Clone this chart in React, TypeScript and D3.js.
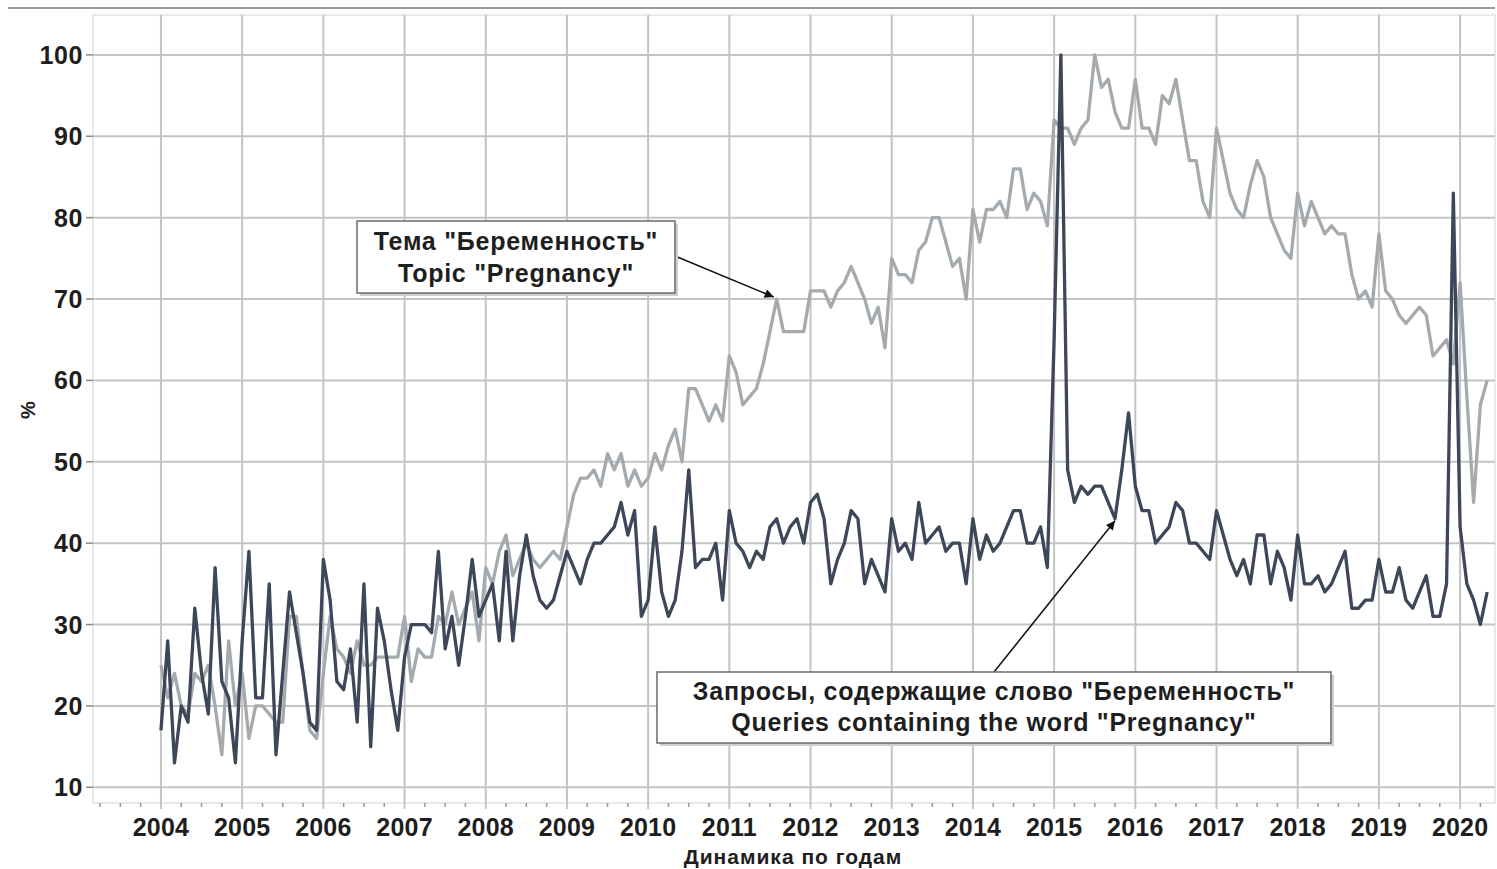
import React from "react";
import * as d3 from "d3";

// Monthly data, Jan 2004 .. May 2020
const startYear = 2004;
const queries: number[] = [
  17, 28, 13, 20, 18, 32, 24, 19, 37, 23, 21, 13,
  28, 39, 21, 21, 35, 14, 24, 34, 29, 24, 18, 17,
  38, 33, 23, 22, 27, 18, 35, 15, 32, 28, 22, 17,
  26, 30, 30, 30, 29, 39, 27, 31, 25, 31, 38, 31,
  33, 35, 28, 39, 28, 36, 41, 36, 33, 32, 33, 36,
  39, 37, 35, 38, 40, 40, 41, 42, 45, 41, 44, 31,
  33, 42, 34, 31, 33, 39, 49, 37, 38, 38, 40, 33,
  44, 40, 39, 37, 39, 38, 42, 43, 40, 42, 43, 40,
  45, 46, 43, 35, 38, 40, 44, 43, 35, 38, 36, 34,
  43, 39, 40, 38, 45, 40, 41, 42, 39, 40, 40, 35,
  43, 38, 41, 39, 40, 42, 44, 44, 40, 40, 42, 37,
  65, 100, 49, 45, 47, 46, 47, 47, 45, 43, 49, 56,
  47, 44, 44, 40, 41, 42, 45, 44, 40, 40, 39, 38,
  44, 41, 38, 36, 38, 35, 41, 41, 35, 39, 37, 33,
  41, 35, 35, 36, 34, 35, 37, 39, 32, 32, 33, 33,
  38, 34, 34, 37, 33, 32, 34, 36, 31, 31, 35, 83,
  42, 35, 33, 30, 34,
];
const topic: number[] = [
  25, 21, 24, 20, 19, 24, 23, 25, 20, 14, 28, 20,
  24, 16, 20, 20, 19, 18, 18, 31, 31, 24, 17, 16,
  24, 31, 27, 26, 24, 28, 25, 25, 26, 26, 26, 26,
  31, 23, 27, 26, 26, 31, 30, 34, 30, 32, 34, 28,
  37, 35, 39, 41, 36, 38, 40, 38, 37, 38, 39, 38,
  42, 46, 48, 48, 49, 47, 51, 49, 51, 47, 49, 47,
  48, 51, 49, 52, 54, 50, 59, 59, 57, 55, 57, 55,
  63, 61, 57, 58, 59, 62, 66, 70, 66, 66, 66, 66,
  71, 71, 71, 69, 71, 72, 74, 72, 70, 67, 69, 64,
  75, 73, 73, 72, 76, 77, 80, 80, 77, 74, 75, 70,
  81, 77, 81, 81, 82, 80, 86, 86, 81, 83, 82, 79,
  92, 91, 91, 89, 91, 92, 100, 96, 97, 93, 91, 91,
  97, 91, 91, 89, 95, 94, 97, 92, 87, 87, 82, 80,
  91, 87, 83, 81, 80, 84, 87, 85, 80, 78, 76, 75,
  83, 79, 82, 80, 78, 79, 78, 78, 73, 70, 71, 69,
  78, 71, 70, 68, 67, 68, 69, 68, 63, 64, 65, 62,
  72, 58, 45, 57, 60,
];
const yearTicks: number[] = d3.range(2004, 2021);
const valueTicks: number[] = d3.range(10, 101, 10);
const topicLabel: string[] = ['Тема "Беременность"', 'Topic "Pregnancy"'];
const queriesLabel: string[] = ['Запросы, содержащие слово "Беременность"', 'Queries containing the word "Pregnancy"'];
const xTitle = "Динамика по годам";
const yTitle = "%";
const topicArrowIndex = 91;
const queriesArrowIndex = 141;

const W = 1497;
const H = 869;
const FONT = "'Liberation Sans', Arial, Helvetica, sans-serif";

export default function App() {
  const left = 93, right = 1495, top = 15, bottom = 803;
  const x = d3.scaleLinear().domain([2003.163, 2020.43]).range([left, right]);
  const y = d3.scaleLinear().domain([8.07, 104.9]).range([bottom, top]);
  const t = (i: number) => startYear + i / 12;
  const line = d3
    .line<number>()
    .x((_, i) => x(t(i)))
    .y((d) => y(d));

  const minor = d3.range(2003.25, 2020.43, 0.25).filter((v) => Math.abs(v - Math.round(v)) > 0.01);

  const gridColor = "#c4c4c4";
  const dark = "#3e4759";
  const light = "#a5aaae";
  const textColor = "#1e1e1e";

  const ax1 = { x: x(t(topicArrowIndex)), y: y(topic[topicArrowIndex]) };
  const ax2 = { x: x(t(queriesArrowIndex)), y: y(queries[queriesArrowIndex]) };

  const annStyle = { fontSize: 25, fontWeight: "bold" as const, letterSpacing: 0.75, fill: textColor };

  return (
    <svg
      width={W}
      height={H}
      style={{ position: "absolute", left: 0, top: 0, background: "#fff" }}
      fontFamily={FONT}
    >
      <defs>
        <marker id="ah" viewBox="0 0 10 10" refX="10" refY="5" markerWidth="10" markerHeight="9" orient="auto" markerUnits="userSpaceOnUse">
          <path d="M0,0 L10,5 L0,10 z" fill="#111" />
        </marker>
        <clipPath id="plot">
          <rect x={left} y={top} width={right - left} height={bottom - top} />
        </clipPath>
      </defs>
      <rect x={0} y={0} width={W} height={H} fill="#fff" />
      <line x1={8} x2={1495} y1={8} y2={8} stroke="#9a9a9a" strokeWidth={2} />
      <rect x={left} y={top} width={right - left} height={bottom - top} fill="#fff" stroke="#e2e2e2" strokeWidth={1.5} />
      {valueTicks.map((v) => (
        <g key={"h" + v}>
          <line x1={left} x2={right} y1={y(v)} y2={y(v)} stroke={gridColor} strokeWidth={2} />
          <line x1={left - 7} x2={left} y1={y(v)} y2={y(v)} stroke="#888" strokeWidth={1.5} />
          <text x={left - 10} y={y(v)} dy="0.36em" textAnchor="end" fontSize={25} letterSpacing={0.6} fontWeight="bold" fill={textColor}>
            {v}
          </text>
        </g>
      ))}
      {yearTicks.map((yr) => (
        <g key={"v" + yr}>
          <line x1={x(yr)} x2={x(yr)} y1={top} y2={bottom + 6} stroke={gridColor} strokeWidth={2} />
          <text x={x(yr)} y={836} textAnchor="middle" fontSize={25} letterSpacing={0.2} fontWeight="bold" fill={textColor}>
            {yr}
          </text>
        </g>
      ))}
      {minor.map((m) => (
        <line key={"m" + m} x1={x(m)} x2={x(m)} y1={bottom} y2={bottom + 4} stroke="#999" strokeWidth={1.5} />
      ))}
      <g clipPath="url(#plot)">
        <path d={line(topic) || ""} fill="none" stroke={light} strokeWidth={3.3} strokeLinejoin="round" />
        <path d={line(queries) || ""} fill="none" stroke={dark} strokeWidth={3.3} strokeLinejoin="round" />
      </g>
      <text x={793} y={864} textAnchor="middle" fontSize={21} letterSpacing={1} fontWeight="bold" fill={textColor}>
        {xTitle}
      </text>
      <text transform="translate(35,410) rotate(-90)" textAnchor="middle" fontSize={20} fontWeight="bold" fill={textColor}>
        {yTitle}
      </text>
      <line x1={675} y1={256} x2={ax1.x - 3} y2={ax1.y - 2} stroke="#111" strokeWidth={1.5} markerEnd="url(#ah)" />
      <rect x={360} y={224} width={318} height={72} fill="#cfcfcf" />
      <rect x={357} y={221} width={318} height={72} fill="#fff" stroke="#6a6a6a" strokeWidth={1.5} />
      <text x={516} y={250} textAnchor="middle" {...annStyle}>
        {topicLabel[0]}
      </text>
      <text x={516} y={282} textAnchor="middle" {...annStyle}>
        {topicLabel[1]}
      </text>
      <line x1={994} y1={672} x2={ax2.x} y2={ax2.y + 2} stroke="#111" strokeWidth={1.5} markerEnd="url(#ah)" />
      <rect x={660} y={675} width={674} height={71} fill="#cfcfcf" />
      <rect x={657} y={672} width={674} height={71} fill="#fff" stroke="#6a6a6a" strokeWidth={1.5} />
      <text x={994} y={700} textAnchor="middle" {...annStyle}>
        {queriesLabel[0]}
      </text>
      <text x={994} y={731} textAnchor="middle" {...annStyle}>
        {queriesLabel[1]}
      </text>
    </svg>
  );
}
